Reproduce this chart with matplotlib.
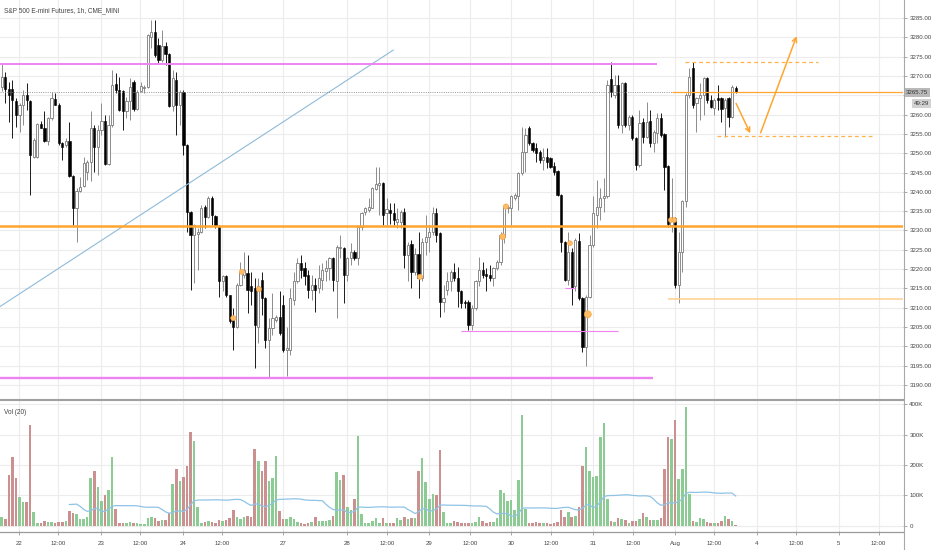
import matplotlib
matplotlib.use('Agg')
import matplotlib.pyplot as plt
import numpy as np
import pandas as pd
from matplotlib.lines import Line2D

plt.rcParams['font.family'] = ['Liberation Sans', 'DejaVu Sans']

# ---------------- data (hourly candles) ----------------
opens = [3267.2,3269.8,3266.5,3266.6,3263.5,3259.9,3262.5,3265.1,3263.5,3249.1,
         3249.1,3257.5,3256.6,3253.2,3259.0,3264.0,3262.6,3252.6,3252.1,3253.2,
         3244.2,3235.7,3240.2,3241.6,3245.2,3247.8,3256.6,3251.7,3256.0,3258.3,
         3247.1,3257.3,3267.8,3266.4,3266.1,3260.8,3263.5,3268.5,3261.4,3266.1,
         3266.8,3267.2,3280.2,3281.5,3278.0,3274.0,3277.8,3275.6,3262.3,3269.0,
         3262.5,3265.9,3252.1,3234.9,3228.8,3229.0,3229.7,3236.2,3233.6,3238.5,
         3233.8,3231.2,3216.8,3218.1,3213.3,3206.8,3205.1,3215.9,3218.5,3218.9,
         3215.5,3215.2,3205.1,3217.2,3212.4,3201.7,3204.7,3206.8,3207.7,3210.7,
         3199.1,3199.1,3212.0,3216.8,3221.5,3220.2,3218.5,3214.6,3215.9,3215.0,
         3217.2,3219.5,3220.2,3222.8,3216.8,3225.4,3225.4,3218.5,3222.8,3224.4,
         3223.0,3231.0,3234.9,3235.3,3235.9,3240.7,3241.8,3242.2,3234.4,3235.3,
         3234.4,3232.3,3232.3,3234.9,3223.7,3226.4,3219.3,3223.8,3217.6,3227.1,
         3228.4,3229.7,3234.4,3229.3,3211.6,3214.6,3216.8,3219.3,3217.6,3214.2,
         3211.6,3211.6,3205.5,3209.9,3216.8,3219.8,3218.7,3218.5,3217.6,3220.2,
         3221.9,3228.4,3235.7,3235.7,3238.5,3238.8,3244.8,3250.4,3256.6,3252.6,
         3251.3,3250.4,3248.3,3249.1,3248.7,3246.8,3245.4,3239.2,3227.1,3217.2,
         3224.5,3215.5,3227.3,3212.4,3199.9,3212.9,3226.2,3234.0,3236.2,3238.3,
         3238.8,3269.2,3265.1,3267.7,3257.3,3268.1,3257.3,3259.5,3253.9,3247.0,
         3258.2,3254.3,3258.3,3252.6,3255.2,3259.0,3254.9,3246.8,3231.4,3233.1,
         3215.9,3224.5,3237.5,3265.1,3272.0,3262.9,3264.2,3265.1,3269.4,3263.8,
         3261.6,3264.2,3264.2,3261.6,3264.2,3259.5,3267.0]
highs = [3273.0,3271.0,3268.5,3269.0,3264.2,3262.9,3266.4,3268.1,3263.8,3253.9,
         3257.7,3258.3,3260.9,3259.5,3265.9,3265.5,3262.9,3253.0,3253.9,3258.0,
         3244.4,3240.9,3243.9,3249.1,3248.3,3260.8,3257.3,3257.3,3262.9,3259.9,
         3259.9,3271.5,3270.7,3269.8,3266.4,3264.5,3269.4,3269.0,3266.4,3268.5,
         3267.7,3280.8,3284.5,3284.5,3279.7,3281.9,3278.9,3275.9,3271.5,3271.1,
         3266.4,3266.4,3252.3,3235.0,3231.8,3230.6,3236.6,3236.6,3238.8,3238.8,
         3234.0,3231.4,3218.5,3218.5,3213.3,3209.9,3216.3,3221.9,3224.5,3223.7,
         3219.3,3217.6,3217.6,3219.3,3212.9,3207.3,3213.7,3208.1,3214.2,3213.3,
         3205.1,3215.0,3219.3,3222.8,3223.7,3221.9,3219.8,3218.5,3217.6,3221.1,
         3221.5,3222.4,3223.2,3223.2,3226.2,3228.8,3225.8,3223.2,3226.7,3225.0,
         3231.4,3234.9,3236.2,3238.3,3241.3,3246.5,3246.3,3242.6,3238.3,3237.0,
         3237.0,3235.7,3235.3,3235.9,3227.1,3227.5,3225.4,3229.7,3228.0,3234.0,
         3231.4,3236.2,3235.7,3229.7,3215.9,3219.3,3219.8,3221.5,3220.6,3214.6,
         3212.0,3212.0,3210.7,3217.2,3223.2,3221.9,3220.2,3221.1,3220.6,3222.4,
         3229.7,3236.6,3236.6,3239.2,3239.6,3245.2,3256.9,3256.4,3257.0,3253.0,
         3252.6,3250.8,3251.3,3251.3,3249.1,3247.8,3245.7,3239.4,3227.3,3229.7,
         3225.4,3228.0,3229.3,3212.9,3213.3,3228.8,3238.8,3243.1,3240.9,3243.5,
         3269.0,3273.7,3270.2,3270.2,3268.5,3268.5,3259.9,3259.9,3254.3,3261.2,
         3259.0,3263.3,3261.2,3256.0,3260.3,3260.3,3255.2,3247.0,3243.5,3233.6,
         3229.7,3237.9,3265.5,3272.0,3273.7,3264.6,3268.1,3269.8,3269.8,3265.1,
         3264.2,3267.7,3264.6,3264.2,3264.6,3267.7,3267.4]
lows = [3266.0,3262.9,3258.2,3253.9,3256.9,3255.6,3257.3,3261.2,3239.2,3248.7,
        3248.7,3256.4,3253.0,3252.1,3258.6,3262.5,3252.1,3248.3,3251.7,3243.9,
        3231.4,3227.1,3240.0,3241.3,3243.1,3242.8,3245.2,3244.4,3254.7,3247.0,
        3247.0,3256.9,3265.5,3260.8,3256.0,3259.0,3258.6,3260.8,3261.2,3265.9,
        3265.5,3266.8,3277.2,3275.0,3273.3,3273.7,3272.8,3262.0,3260.8,3254.7,
        3257.3,3249.5,3229.7,3214.6,3216.3,3219.8,3229.3,3230.6,3233.1,3231.4,
        3230.6,3212.9,3214.2,3212.9,3206.0,3199.1,3204.7,3215.5,3217.6,3208.6,
        3210.7,3194.3,3200.8,3208.1,3199.5,3191.7,3203.0,3206.4,3203.0,3198.6,
        3192.2,3197.8,3210.7,3216.3,3217.6,3215.9,3212.4,3212.0,3209.0,3213.7,
        3214.6,3216.8,3217.2,3214.2,3207.3,3222.8,3211.2,3216.8,3221.1,3222.4,
        3221.1,3230.1,3234.0,3234.9,3235.7,3240.5,3234.0,3231.4,3231.4,3231.8,
        3231.4,3230.6,3230.6,3220.2,3216.8,3215.0,3218.5,3212.4,3216.8,3223.7,
        3224.5,3228.8,3227.1,3207.7,3209.0,3213.3,3214.2,3216.8,3210.3,3209.9,
        3209.9,3204.2,3204.2,3209.4,3215.5,3217.6,3214.2,3216.8,3215.5,3219.8,
        3221.1,3226.7,3234.4,3231.4,3237.9,3235.3,3244.4,3245.2,3252.1,3250.4,
        3247.8,3247.4,3245.7,3246.1,3246.1,3244.4,3238.8,3224.5,3216.8,3215.9,
        3210.7,3214.2,3212.0,3198.6,3194.8,3212.4,3225.8,3230.6,3232.7,3234.9,
        3238.3,3264.6,3264.2,3256.4,3255.2,3256.9,3256.0,3253.4,3245.7,3246.5,
        3252.6,3253.9,3251.7,3250.4,3252.6,3254.3,3240.5,3231.0,3229.7,3215.0,
        3211.2,3219.3,3236.2,3264.2,3261.6,3255.6,3258.6,3259.9,3262.9,3261.6,
        3259.9,3261.2,3258.2,3254.3,3256.9,3259.0,3265.5]
closes = [3269.8,3266.5,3265.0,3263.8,3259.9,3262.6,3265.1,3263.8,3249.5,3253.4,
          3257.5,3256.6,3253.2,3259.0,3264.2,3262.6,3252.6,3251.7,3253.2,3244.2,
          3235.7,3240.2,3241.3,3247.4,3247.8,3256.6,3251.7,3256.0,3258.3,3247.1,
          3257.3,3267.7,3266.4,3261.2,3260.8,3263.5,3267.2,3261.4,3265.9,3267.4,
          3267.2,3280.6,3281.5,3275.4,3274.0,3277.8,3275.6,3262.3,3269.4,3262.5,
          3265.9,3252.1,3234.9,3228.8,3231.4,3229.7,3235.9,3233.6,3238.5,3234.0,
          3231.2,3216.8,3218.1,3213.3,3206.6,3205.1,3215.9,3219.3,3219.8,3214.6,
          3214.2,3205.4,3215.5,3212.4,3201.7,3204.7,3207.3,3207.7,3203.4,3199.1,
          3199.5,3212.4,3216.8,3221.5,3219.8,3218.3,3214.6,3215.9,3214.6,3217.6,
          3219.8,3220.2,3222.8,3217.2,3225.6,3225.8,3218.5,3222.8,3224.4,3223.0,
          3231.0,3234.4,3235.7,3236.2,3240.9,3242.0,3242.2,3234.0,3235.5,3234.4,
          3232.7,3233.0,3234.9,3223.7,3226.2,3219.3,3223.8,3217.6,3227.1,3228.4,
          3229.7,3234.4,3228.8,3211.6,3212.6,3216.8,3219.3,3217.6,3214.2,3211.2,
          3211.2,3205.5,3209.9,3216.9,3219.8,3218.5,3218.1,3217.6,3220.2,3221.9,
          3228.8,3236.2,3236.2,3238.8,3239.2,3244.8,3250.4,3254.7,3252.6,3250.8,
          3250.0,3248.3,3249.1,3247.8,3246.5,3245.2,3239.2,3227.1,3217.2,3224.5,
          3215.0,3227.5,3212.4,3199.9,3212.9,3226.2,3234.4,3236.2,3238.3,3238.8,
          3267.7,3265.9,3267.7,3257.3,3268.1,3257.3,3259.5,3253.9,3247.0,3257.7,
          3254.3,3258.2,3252.6,3255.6,3259.0,3254.7,3246.3,3231.8,3233.1,3215.9,
          3224.5,3237.6,3265.1,3269.8,3262.5,3264.2,3265.1,3269.4,3263.8,3262.0,
          3263.8,3263.8,3261.4,3263.8,3259.5,3267.2,3265.75]
volume_k = [30,22,167,227,158,96,79,79,331,46,
            10,10,16,12,12,8,12,12,16,49,
            43,38,23,23,30,157,180,127,82,101,
            119,225,55,9,9,10,12,9,8,5,
            5,25,27,25,16,19,19,41,137,186,
            148,162,197,309,280,60,9,13,14,12,
            8,19,16,19,25,52,30,23,27,32,
            27,252,212,180,214,148,157,230,49,23,
            23,27,23,12,8,5,9,12,27,16,
            16,16,19,32,177,151,166,63,52,88,
            296,38,8,8,16,25,10,25,10,10,
            10,25,19,27,23,25,25,181,223,144,
            87,104,101,249,45,8,8,16,12,8,
            8,8,8,13,27,15,9,11,13,26,
            118,109,81,85,52,150,364,55,8,8,
            11,10,8,8,5,8,13,52,30,44,
            30,32,60,198,260,181,162,164,293,337,
            87,15,13,25,21,19,10,16,16,21,
            41,27,19,19,19,24,187,293,287,348,
            155,187,390,103,16,13,25,21,12,8,
            8,8,14,32,22,15,2]

tick_pos = [4.86, 15.9, 27.8, 38.8, 50.8, 61.9, 78.9, 96.8, 108.1, 120.0, 131.4,
            142.9, 154.2, 165.9, 177.1, 189.0, 199.9, 212.0, 222.9, 234.9, 246.1]
tick_labels = ['22', '12:00', '23', '12:00', '24', '12:00', '27', '28', '12:00', '29',
               '12:00', '30', '12:00', '31', '12:00', 'Aug', '12:00', '4', '12:00', '5', '12:00']

price_ticks = list(range(3190, 3290, 5))
vol_ticks = [0, 100, 200, 300, 400]
vol_tick_labels = ['0', '100K', '200K', '300K', '400K']

last_price = 3265.75
countdown = '49:29'

# drawings on the chart (levels in price, spans in bar index)
pink_levels = [3273.1, 3191.9, 3203.9, 3215.2]
pink_start = [-0.5, -0.5, 128.9, 158.1]
pink_end = [183.9, 182.9, 172.9, 160.9]
pink_width = [1.4, 1.7, 0.8, 0.8]
orange_main = 3231.25
orange_low = 3212.3
orange_low_start = 187.0
orange_last_start = 188.0
dash_levels = [3273.7, 3254.45]
dash_start = [191.8, 200.7]
dash_end = [229.1, 244.5]
arrow_from = [(206.1, 3262.9), (213.0, 3255.3)]
arrow_to = [(210.1, 3255.15), (223.1, 3280.3)]
trend_x = [-0.48, 109.9]
trend_y = [3210.3, 3276.7]
marker_x = [65.0, 67.4, 72.2, 117.4, 140.6, 141.5, 159.5, 164.5, 187.8, 188.8]
marker_y = [3207.3, 3219.3, 3214.8, 3218.0, 3228.4, 3236.2, 3226.7, 3208.3, 3232.7, 3232.7]
marker_size = [14, 14, 14, 14, 18, 14, 12, 26, 12, 12]

# ---------------- figure ----------------
W, H = 932, 550
fig = plt.figure(figsize=(W / 100, H / 100), dpi=100)
fig.patch.set_facecolor('white')


def px_rect(l, t, r, b):
    return [l / W, 1 - b / H, (r - l) / W, (b - t) / H]


axp = fig.add_axes(px_rect(0, 0, 903, 399))
axv = fig.add_axes(px_rect(0, 401, 903, 531), sharex=axp)

o = np.array(opens); h = np.array(highs); l = np.array(lows); c = np.array(closes)
x = np.arange(len(o))
up = c >= o
body_bot = np.minimum(o, c)
body_h = np.maximum(np.abs(c - o), 0.15)

grid_c = '#ececec'
for ax in (axp, axv):
    for s in ax.spines.values():
        s.set_visible(False)
    ax.set_facecolor('white')

axp.set_xlim(-0.477, 252.96)
axp.set_ylim(3186.37, 3289.66)
axv.set_ylim(-17.5, 410.9)

# grids
axp.set_xticks(tick_pos)
axp.set_yticks(price_ticks)
axp.grid(True, color=grid_c, lw=0.8, zorder=0)
axv.set_yticks(vol_ticks)
axv.grid(True, color=grid_c, lw=0.8, zorder=0)

# candles
axp.vlines(x[up], l[up], h[up], color='#8c8c8c', lw=0.7, zorder=3)
axp.vlines(x[~up], l[~up], h[~up], color='#1a1a1a', lw=0.7, zorder=3)
axp.bar(x[up], body_h[up], bottom=body_bot[up], width=0.62, facecolor='white',
        edgecolor='#7a7a7a', lw=0.6, zorder=4)
axp.bar(x[~up], body_h[~up], bottom=body_bot[~up], width=0.62, facecolor='black',
        edgecolor='black', lw=0.4, zorder=4)

# drawings
axp.plot(trend_x, trend_y, color='#8fbbd9', lw=0.8, zorder=5)
for lv, xs, xe, lw_ in zip(pink_levels, pink_start, pink_end, pink_width):
    axp.hlines(lv, xs, xe, color='#ee82f0', lw=lw_, zorder=5)
axp.axhline(orange_main, color='#ffa530', lw=1.8, zorder=5)
axp.hlines(orange_low, orange_low_start, 253, color='#ffcf8f', lw=1.1, zorder=5)
axp.axhline(last_price, color='#888888', lw=0.6, ls=(0, (1.2, 1.5)), zorder=5)
axp.hlines(last_price, orange_last_start, 253, color='#ffa530', lw=0.9, zorder=5)
for lv, xs, xe in zip(dash_levels, dash_start, dash_end):
    axp.hlines(lv, xs, xe, color='#ffb347', lw=0.9, ls=(0, (3, 2.5)), zorder=5)
for a, b in zip(arrow_from, arrow_to):
    axp.annotate('', xy=b, xytext=a,
                 arrowprops=dict(arrowstyle='->', color='#ffa530', lw=1.1,
                                 shrinkA=0, shrinkB=0, mutation_scale=8), zorder=6)
axp.scatter(marker_x, marker_y, s=marker_size, c='#ffbb66', edgecolors='#f5a03a',
            linewidths=0.4, zorder=6)

# price axis labels
axp.yaxis.tick_right()
axp.set_yticklabels(['' if v == 3265 else f'{v:.2f}' for v in price_ticks])
axp.tick_params(axis='y', length=3, width=0.6, color='#999999', labelsize=4.4,
                labelcolor='#444444', pad=1.5)
axp.tick_params(axis='x', length=0, labelbottom=False)

axp.annotate(f'{last_price:.2f}', xy=(1, last_price), xycoords=('axes fraction', 'data'),
             xytext=(3, 0), textcoords='offset pixels', ha='left', va='center',
             fontsize=4.4, color='#333333', annotation_clip=False, zorder=10,
             bbox=dict(boxstyle='square,pad=0.3', fc='#b9b9b9', ec='none'))
axp.annotate(countdown, xy=(1, last_price), xycoords=('axes fraction', 'data'),
             xytext=(11, -11), textcoords='offset pixels', ha='left', va='center',
             fontsize=4.4, color='#333333', annotation_clip=False, zorder=10,
             bbox=dict(boxstyle='square,pad=0.3', fc='#d2d2d2', ec='none'))

# volume
vol = np.array(volume_k, dtype=float)
vcol = np.where(up, '#8dcb95', '#cb9191')
axv.bar(x, vol, width=0.72, color=vcol, zorder=3)
ma = pd.Series(vol).rolling(20).mean()
axv.plot(x, ma, color='#8fc3e6', lw=0.9, zorder=4)

axv.yaxis.tick_right()
axv.set_yticklabels(vol_tick_labels)
axv.tick_params(axis='y', length=3, width=0.6, color='#999999', labelsize=4.4,
                labelcolor='#444444', pad=1.5)
axv.set_xticks(tick_pos)
axv.set_xticklabels(tick_labels)
axv.tick_params(axis='x', length=3, width=0.6, color='#999999', labelsize=4.4,
                labelcolor='#444444', pad=4)

# frame lines
fig.add_artist(Line2D([0, 903 / W], [1 - 400 / H, 1 - 400 / H], color='#a0a0a0', lw=1.5))
fig.add_artist(Line2D([0, 903 / W], [1 - 531.5 / H, 1 - 531.5 / H], color='#9a9a9a', lw=0.9))
fig.add_artist(Line2D([903.5 / W, 903.5 / W], [0, 1], color='#a8a8a8', lw=0.8))

fig.text(4 / W, 1 - 11 / H, 'S&P 500 E-mini Futures, 1h, CME_MINI', fontsize=4.7,
         color='#444444', va='center', ha='left')
fig.text(4 / W, 1 - 412 / H, 'Vol (20)', fontsize=4.7, color='#444444',
         va='center', ha='left')

fig.savefig('out.png', dpi=100, facecolor='white')
